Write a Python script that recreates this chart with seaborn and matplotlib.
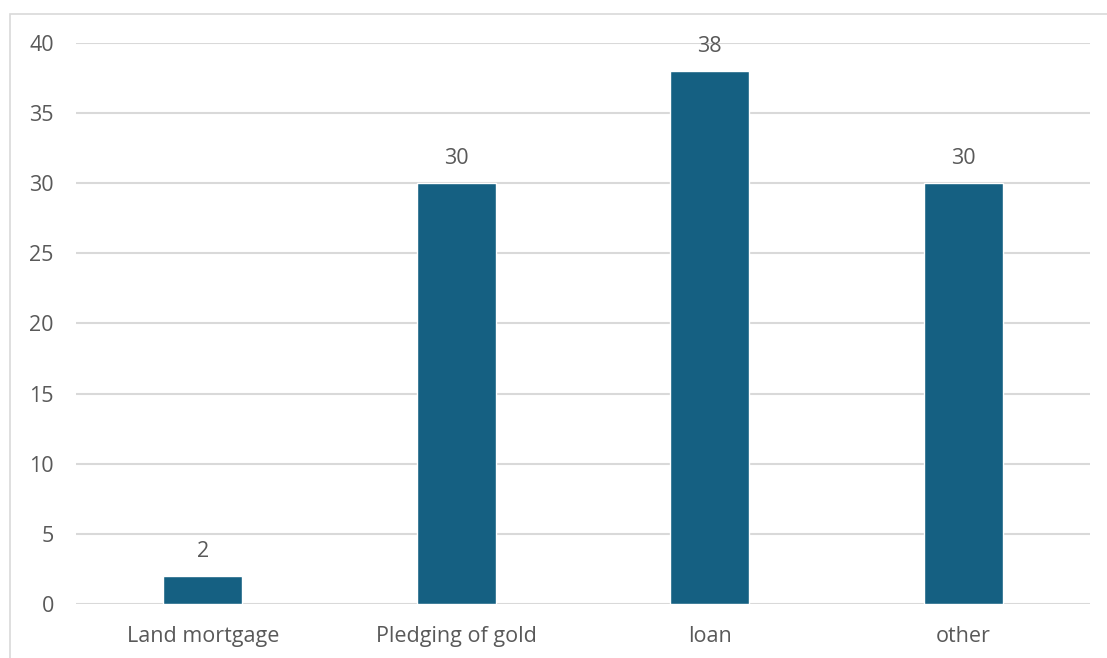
import matplotlib
matplotlib.use("Agg")
import matplotlib.pyplot as plt
import seaborn as sns
import pandas as pd
from matplotlib.patches import Rectangle

categories = ["Land mortgage", "Pledging of gold", "loan", "other"]
values = [2, 30, 38, 30]
y_ticks = [0, 5, 10, 15, 20, 25, 30, 35, 40]

df = pd.DataFrame({"category": categories, "value": values})

sns.set_theme(style="white")
plt.rcParams["font.family"] = ["Open Sans", "DejaVu Sans"]

text_color = "#595959"
grid_color = "#d9d9d9"
bar_color = "#156082"

fig = plt.figure(figsize=(11.07, 6.58), dpi=100)
fig.patch.set_facecolor("white")

# chart-area frame
fig.add_artist(Rectangle((10 / 1107, -0.05), 1.2, 0.05 + (1 - 14 / 658),
                         transform=fig.transFigure, fill=False,
                         edgecolor=grid_color, linewidth=1.2))

ax = fig.add_axes([76 / 1107, 1 - 604 / 658, (1090 - 76) / 1107, (604 - 43) / 658])
sns.barplot(data=df, x="category", y="value", color=bar_color, width=0.31,
            saturation=1, ax=ax, zorder=3)

ax.set_ylim(0, 40)
ax.set_xlim(-0.5, len(categories) - 0.5)
ax.set_yticks(y_ticks)
for t in y_ticks:
    ax.axhline(t, color=grid_color, linewidth=1.5, zorder=1)

for spine in ax.spines.values():
    spine.set_visible(False)

ax.set_xlabel("")
ax.set_ylabel("")
ax.tick_params(axis="both", length=0, labelsize=15.5, labelcolor=text_color)
ax.tick_params(axis="y", pad=16)
ax.tick_params(axis="x", pad=16)
for lab in ax.get_yticklabels():
    lab.set_horizontalalignment("right")

for container in ax.containers:
    ax.bar_label(container, labels=[str(v) for v in values], padding=10,
                 fontsize=15.5, color=text_color)

fig.savefig("out.png", dpi=100, facecolor="white")
